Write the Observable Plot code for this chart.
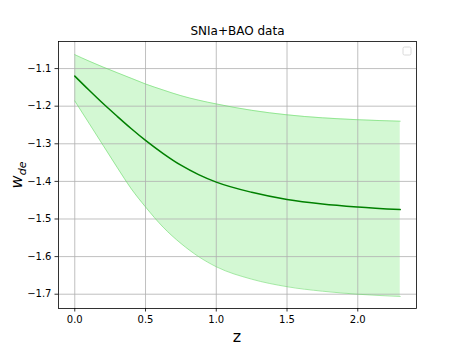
<!DOCTYPE html>
<html><head><meta charset="utf-8">
<script src="https://cdn.jsdelivr.net/npm/d3@7"></script>
<script src="https://cdn.jsdelivr.net/npm/@observablehq/plot@0.6"></script>
<style>body{margin:0;background:#fff} #chart{width:463px;height:347px}</style>
</head><body><div id="chart"></div>
<script>
const titleText = "SNIa+BAO data";
const xTicks = [0, 0.5, 1.0, 1.5, 2.0];
const yTicks = [-1.7, -1.6, -1.5, -1.4, -1.3, -1.2, -1.1];
const z       = [0, 0.1, 0.2, 0.3, 0.4, 0.5, 0.625, 0.75, 0.875, 1.0, 1.25, 1.5, 1.75, 2.0, 2.3];
const wCenter = [-1.120, -1.157, -1.193, -1.227, -1.260, -1.291, -1.326, -1.357, -1.382, -1.402, -1.429, -1.448, -1.460, -1.468, -1.475];
const wUpper  = [-1.063, -1.080, -1.096, -1.111, -1.126, -1.141, -1.157, -1.172, -1.184, -1.194, -1.211, -1.223, -1.231, -1.236, -1.240];
const wLower  = [-1.186, -1.245, -1.304, -1.363, -1.420, -1.468, -1.522, -1.565, -1.600, -1.627, -1.660, -1.680, -1.692, -1.700, -1.706];

const data = z.map((v, i) => ({z: v, c: wCenter[i], hi: wUpper[i], lo: wLower[i]}));
const fmt = d3.format(".1f");
const curve = "monotone-x";

const chart = Plot.plot({
  width: 463, height: 347,
  marginLeft: 58, marginRight: 47, marginTop: 41, marginBottom: 39,
  style: {fontFamily: "DejaVu Sans", fontSize: "10px", color: "#000", background: "#fff"},
  x: {domain: [-0.115, 2.415], label: null},
  y: {domain: [-1.738, -1.028], label: null},
  marks: [
    Plot.areaY(data, {x: "z", y1: "lo", y2: "hi", fill: "#90ee90", fillOpacity: 0.4, curve}),
    Plot.gridX(xTicks, {stroke: "#b0b0b0", strokeOpacity: 1, strokeWidth: 0.8}),
    Plot.gridY(yTicks, {stroke: "#b0b0b0", strokeOpacity: 1, strokeWidth: 0.8}),
    Plot.line(data, {x: "z", y: "hi", stroke: "#5fd85f", strokeOpacity: 0.7, strokeWidth: 0.8, curve}),
    Plot.line(data, {x: "z", y: "lo", stroke: "#5fd85f", strokeOpacity: 0.7, strokeWidth: 0.8, curve}),
    Plot.line(data, {x: "z", y: "c", stroke: "#008000", strokeWidth: 1.5, curve}),
    Plot.frame({stroke: "#000", strokeWidth: 0.8}),
    Plot.axisX(xTicks, {tickSize: 3.5, tickPadding: 3.5, tickFormat: fmt, label: null, strokeWidth: 0.8}),
    Plot.axisY(yTicks, {tickSize: 3.5, tickPadding: 3.5, tickFormat: fmt, label: null, strokeWidth: 0.8}),
    Plot.text([titleText], {frameAnchor: "top", dy: -10, lineAnchor: "middle", fontSize: 12, fill: "#000"})
  ]
});
document.getElementById("chart").appendChild(chart);

const svg = d3.select(chart);
// x label
svg.append("text").attr("x", 237).attr("y", 337).attr("text-anchor", "middle")
  .attr("dominant-baseline", "middle").attr("font-family", "DejaVu Sans").attr("font-size", 16)
  .attr("fill", "#000").text("z");
// y label w_de
const yl = svg.append("text").attr("transform", "translate(22,175) rotate(-90)")
  .attr("text-anchor", "middle").attr("font-family", "DejaVu Sans").attr("font-size", 16)
  .attr("font-style", "italic").attr("fill", "#000");
yl.append("tspan").text("w");
yl.append("tspan").attr("font-size", 11).attr("dy", 4).text("de");
// empty legend box
svg.append("rect").attr("x", 403).attr("y", 47).attr("width", 8).attr("height", 8)
  .attr("rx", 1.5).attr("fill", "#fff").attr("stroke", "#d0d0d0").attr("stroke-width", 0.8);
</script>
</body></html>
